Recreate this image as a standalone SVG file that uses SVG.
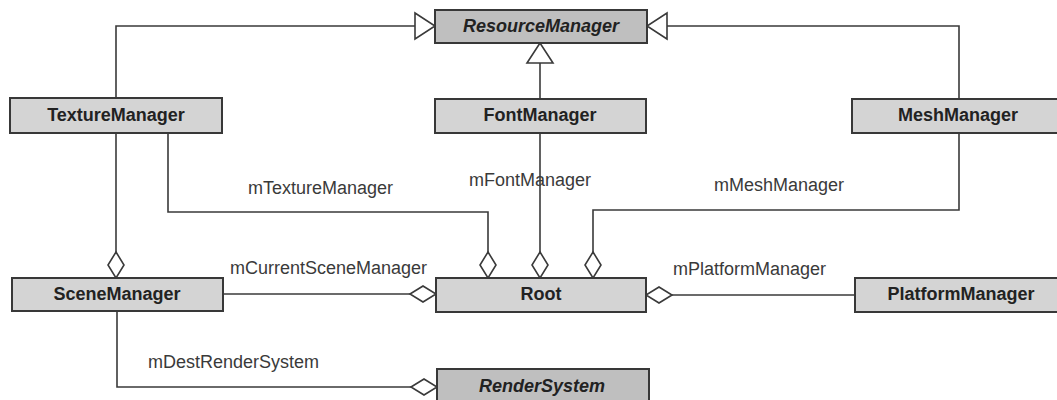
<svg xmlns="http://www.w3.org/2000/svg" width="1057" height="400" viewBox="0 0 1057 400">
<style>
.box{fill:#d4d4d4;stroke:#383838;stroke-width:2}
.abs{fill:#bfbfbf;stroke:#383838;stroke-width:2}
.name{font-family:"Liberation Sans",Arial,sans-serif;font-size:18px;font-weight:bold;fill:#222;text-anchor:middle}
.it{font-style:italic}
.lbl{font-family:"Liberation Sans",Arial,sans-serif;font-size:18px;fill:#3a3a3a}
.gen{fill:none;stroke:#3a3a3a;stroke-width:1.6;marker-end:url(#tri)}
.agg{fill:none;stroke:#3a3a3a;stroke-width:1.6;marker-end:url(#dia)}
</style>
<defs>
<marker id="tri" markerUnits="userSpaceOnUse" markerWidth="22" markerHeight="28" refX="20" refY="13" orient="auto" overflow="visible">
<path d="M0,0 L20,13 L0,26 Z" fill="#fff" stroke="#3a3a3a" stroke-width="1.6"/>
</marker>
<marker id="dia" markerUnits="userSpaceOnUse" markerWidth="28" markerHeight="18" refX="26" refY="8" orient="auto" overflow="visible">
<path d="M0,8 L13,0 L26,8 L13,16 Z" fill="#fff" stroke="#3a3a3a" stroke-width="1.6"/>
</marker>
</defs>
<g id="connectors">
<path class="gen" d="M116,98 V26 H435"/>
<path class="gen" d="M959,99 V26 H647"/>
<path class="gen" d="M540,99 V43"/>
<path class="agg" d="M168,133 V212 H488 V278"/>
<path class="agg" d="M540,133 V278"/>
<path class="agg" d="M959,133 V210 H593 V278"/>
<path class="agg" d="M116,133 V278"/>
<path class="agg" d="M223,294 H436"/>
<path class="agg" d="M855,295 H646"/>
<path class="agg" d="M117,311 V387 H437"/>
<text class="lbl" x="248" y="194">mTextureManager</text>
<text class="lbl" x="469" y="186">mFontManager</text>
<text class="lbl" x="714" y="191">mMeshManager</text>
<text class="lbl" x="230" y="274">mCurrentSceneManager</text>
<text class="lbl" x="673" y="275">mPlatformManager</text>
<text class="lbl" x="148" y="368">mDestRenderSystem</text>
</g>
<g id="ResourceManager"><rect class="abs" x="435" y="10" width="212" height="33"/><text class="name it" x="541" y="32">ResourceManager</text></g>
<g id="TextureManager"><rect class="box" x="10" y="98" width="212" height="35"/><text class="name" x="116" y="121">TextureManager</text></g>
<g id="FontManager"><rect class="box" x="435" y="99" width="211" height="34"/><text class="name" x="540" y="121">FontManager</text></g>
<g id="MeshManager"><rect class="box" x="852" y="99" width="212" height="34"/><text class="name" x="958" y="121">MeshManager</text></g>
<g id="SceneManager"><rect class="box" x="12" y="278" width="211" height="33"/><text class="name" x="117" y="300">SceneManager</text></g>
<g id="Root"><rect class="box" x="436" y="278" width="210" height="34"/><text class="name" x="541" y="300">Root</text></g>
<g id="PlatformManager"><rect class="box" x="855" y="278" width="212" height="34"/><text class="name" x="961" y="300">PlatformManager</text></g>
<g id="RenderSystem"><rect class="abs" x="437" y="369" width="212" height="40"/><text class="name it" x="542" y="392">RenderSystem</text></g>
</svg>
